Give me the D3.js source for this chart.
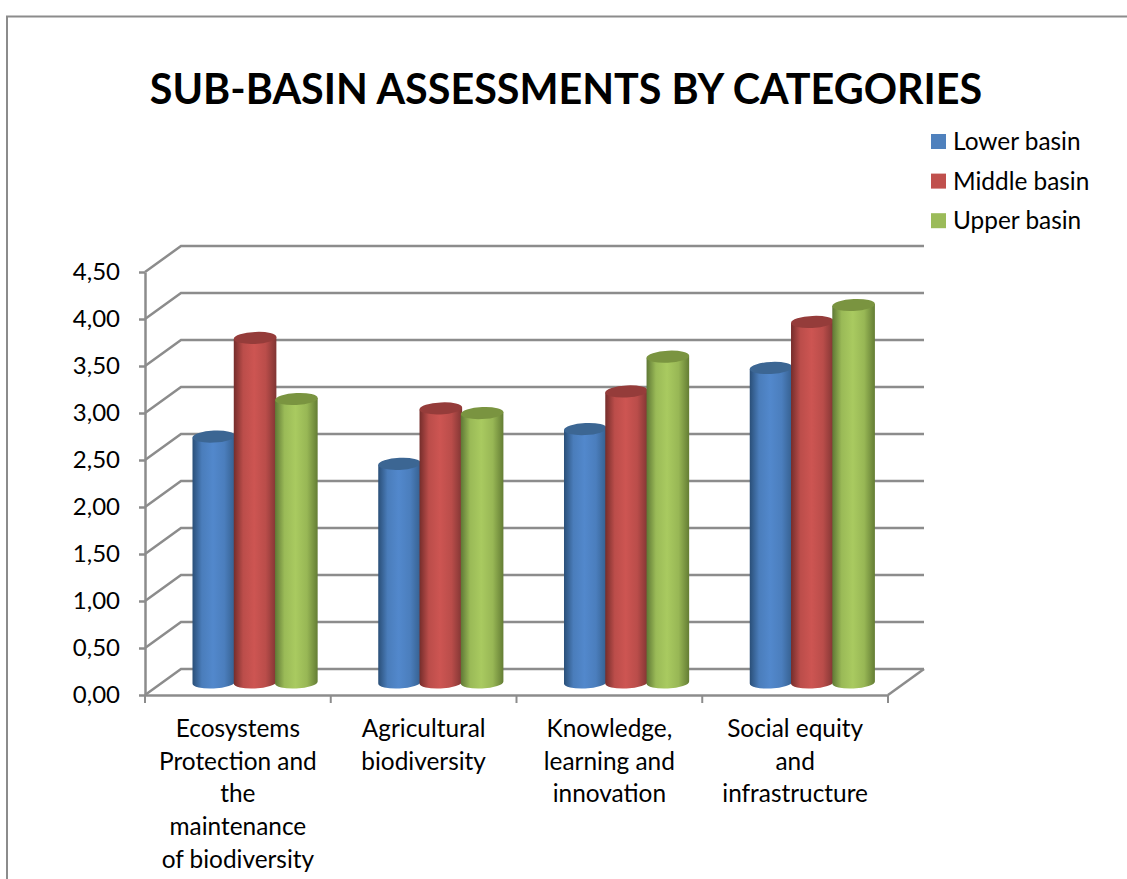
<!DOCTYPE html>
<html>
<head>
<meta charset="utf-8">
<script src="https://cdn.jsdelivr.net/npm/d3@7"></script>
<style>
    body { margin: 0; background: #fff; }
    text { font-family: Lato, "Open Sans", sans-serif; fill: #000; }
</style>
</head>
<body>
<div id="chart-area"></div>
<script>
// chart data
var categories = [
    "Ecosystems Protection and the maintenance of biodiversity",
    "Agricultural biodiversity",
    "Knowledge, learning and innovation",
    "Social equity and infrastructure"
];
var categoryLines = [
    ["Ecosystems", "Protection and", "the", "maintenance", "of biodiversity"],
    ["Agricultural", "biodiversity"],
    ["Knowledge,", "learning and", "innovation"],
    ["Social equity", "and", "infrastructure"]
];
var seriesNames = ["Lower basin", "Middle basin", "Upper basin"];
var lowerBasin = [2.60, 2.31, 2.68, 3.33];
var middleBasin = [3.65, 2.90, 3.08, 3.82];
var upperBasin = [3.00, 2.85, 3.45, 4.00];
var yTicks = [0, 0.5, 1, 1.5, 2, 2.5, 3, 3.5, 4, 4.5];

var seriesValues = [lowerBasin, middleBasin, upperBasin];
var seriesColors = [
    { edge: "#2a4f78", mid: "#5288cc", right: "#355f8e", top: "#3c6693", swatch: "#4f81bd" },
    { edge: "#752d2b", mid: "#cd5552", right: "#803533", top: "#953c3a", swatch: "#c0504d" },
    { edge: "#5f7835", mid: "#a9ca60", right: "#647d34", top: "#7a9440", swatch: "#9bbb59" }
];

var chartWidth = 1127,
    chartHeight = 879;

// the plot is a fake 3D box: walls are shifted up and right from the front axes
var front = { left: 145, right: 888, top: 272, bottom: 695 };
var depth = { x: 36, y: -26 };
var barRadius = { x: 21.3, y: 6 };

var svg = d3.select("#chart-area").append("svg")
    .attr("width", chartWidth)
    .attr("height", chartHeight)
    .style("display", "block");

// scales
var x = d3.scaleBand()
    .domain(categories)
    .range([front.left, front.right]);

var xInner = d3.scaleBand()
    .domain(seriesNames)
    .range([0, x.bandwidth()])
    .paddingInner(0)
    .paddingOuter(0.75);

var y = d3.scaleLinear()
    .domain([0, 4.5])
    .range([front.bottom, front.top]);

// gradients for the cylinders
var defs = svg.append("defs");
seriesColors.forEach(function(c, i) {
    var grad = defs.append("linearGradient").attr("id", "cyl" + i);
    grad.append("stop").attr("offset", "0%").attr("stop-color", c.edge);
    grad.append("stop").attr("offset", "22%").attr("stop-color", d3.interpolateRgb(c.edge, c.mid)(0.8));
    grad.append("stop").attr("offset", "48%").attr("stop-color", c.mid);
    grad.append("stop").attr("offset", "75%").attr("stop-color", d3.interpolateRgb(c.right, c.mid)(0.75));
    grad.append("stop").attr("offset", "100%").attr("stop-color", c.right);
});

// outer frame of the chart object
svg.append("path")
    .attr("d", "M7," + chartHeight + "V16.5H" + chartWidth)
    .attr("fill", "none")
    .attr("stroke", "#8c8c8c")
    .attr("stroke-width", 2);

// title
svg.append("text")
    .attr("x", 566)
    .attr("y", 104)
    .attr("text-anchor", "middle")
    .style("font-size", "41.3px")
    .style("font-weight", "bold")
    .text("SUB-BASIN ASSESSMENTS BY CATEGORIES");

// back wall grid lines and left wall diagonals
var grid = svg.append("g")
    .attr("fill", "none")
    .attr("stroke", "#8c8c8c")
    .attr("stroke-width", 2.5);

grid.selectAll(".grid")
    .data(yTicks)
    .enter().append("path")
    .attr("class", "grid")
    .attr("d", function(d) {
        return "M" + front.left + "," + y(d)
            + "L" + (front.left + depth.x) + "," + (y(d) + depth.y)
            + "H" + (front.right + depth.x);
    });

// right edge of the floor
grid.append("path")
    .attr("d", "M" + front.right + "," + y(0)
        + "L" + (front.right + depth.x) + "," + (y(0) + depth.y));

// axes
var yAxis = d3.axisLeft(y)
    .tickValues(yTicks)
    .tickSizeInner(6)
    .tickSizeOuter(0)
    .tickPadding(19)
    .tickFormat(function(d) { return d3.format(".2f")(d).replace(".", ","); });

var yAxisGroup = svg.append("g")
    .attr("class", "y-axis axis")
    .attr("transform", "translate(" + front.left + ",0)")
    .call(yAxis);

var xAxis = d3.axisBottom(x)
    .tickSize(0)
    .tickPadding(0)
    .tickFormat("");

var xAxisGroup = svg.append("g")
    .attr("class", "x-axis axis")
    .attr("transform", "translate(0," + y(0) + ")")
    .call(xAxis);

svg.selectAll(".axis .domain, .axis line")
    .attr("stroke", "#8c8c8c")
    .attr("stroke-width", 2.5);

yAxisGroup.selectAll("text")
    .style("font-size", "24px")
    .attr("fill", "#000");

// x ticks sit on the category boundaries, not the centres
xAxisGroup.selectAll(".boundary")
    .data(d3.range(categories.length + 1))
    .enter().append("line")
    .attr("class", "boundary")
    .attr("x1", function(d) { return front.left + d * x.step(); })
    .attr("x2", function(d) { return front.left + d * x.step(); })
    .attr("y1", 0)
    .attr("y2", 8)
    .attr("stroke", "#8c8c8c")
    .attr("stroke-width", 2);

// category labels, broken the way the original wraps them
var labels = svg.append("g").selectAll("text")
    .data(categories)
    .enter().append("text")
    .attr("text-anchor", "middle")
    .style("font-size", "24.4px");

labels.selectAll("tspan")
    .data(function(d, i) {
        return categoryLines[i].map(function(line) { return { line: line, cat: d }; });
    })
    .enter().append("tspan")
    .attr("x", function(d) { return x(d.cat) + x.bandwidth() / 2; })
    .attr("y", function(d, i) { return 737 + i * 32.7; })
    .text(function(d) { return d.line; });

// cylinders stand in the middle of the floor depth
function barLeft(d) {
    return x(d.cat) + xInner(d.name) + depth.x / 2 + (xInner.bandwidth() - 2 * barRadius.x) / 2 - 0.8;
}

function barPath(d) {
    var left = barLeft(d),
        right = left + 2 * barRadius.x,
        base = y(0) + depth.y / 2 + 1.5,
        top = y(d.value) + depth.y / 2;
    return "M" + left + "," + top
        + "L" + left + "," + base
        + "A" + barRadius.x + "," + barRadius.y + " -3 0 0 " + right + "," + (base - 2)
        + "L" + right + "," + (top - 2)
        + "Z";
}

function barTop(d) {
    var left = barLeft(d),
        right = left + 2 * barRadius.x,
        top = y(d.value) + depth.y / 2;
    return "M" + left + "," + top
        + "A" + barRadius.x + "," + barRadius.y + " -3 1 1 " + right + "," + (top - 2)
        + "A" + barRadius.x + "," + barRadius.y + " -3 1 1 " + left + "," + top
        + "Z";
}

var groups = svg.selectAll(".bar-group")
    .data(categories)
    .enter().append("g")
    .attr("class", "bar-group");

var bars = groups.selectAll("g")
    .data(function(cat, c) {
        return seriesNames.map(function(name, s) {
            return { cat: cat, name: name, s: s, value: seriesValues[s][c] };
        });
    })
    .enter().append("g");

bars.append("path")
    .attr("d", barPath)
    .attr("fill", function(d) { return "url(#cyl" + d.s + ")"; });

bars.append("path")
    .attr("d", barTop)
    .attr("fill", function(d) { return seriesColors[d.s].top; });

// legend
var legend = svg.selectAll(".legend")
    .data(seriesNames)
    .enter().append("g")
    .attr("class", "legend")
    .attr("transform", function(d, i) { return "translate(931," + (134 + i * 39.6) + ")"; });

legend.append("rect")
    .attr("width", 15)
    .attr("height", 15)
    .attr("fill", function(d, i) { return seriesColors[i].swatch; });

legend.append("text")
    .attr("x", 22)
    .attr("y", 16)
    .style("font-size", "24.4px")
    .text(function(d) { return d; });
</script>
</body>
</html>
